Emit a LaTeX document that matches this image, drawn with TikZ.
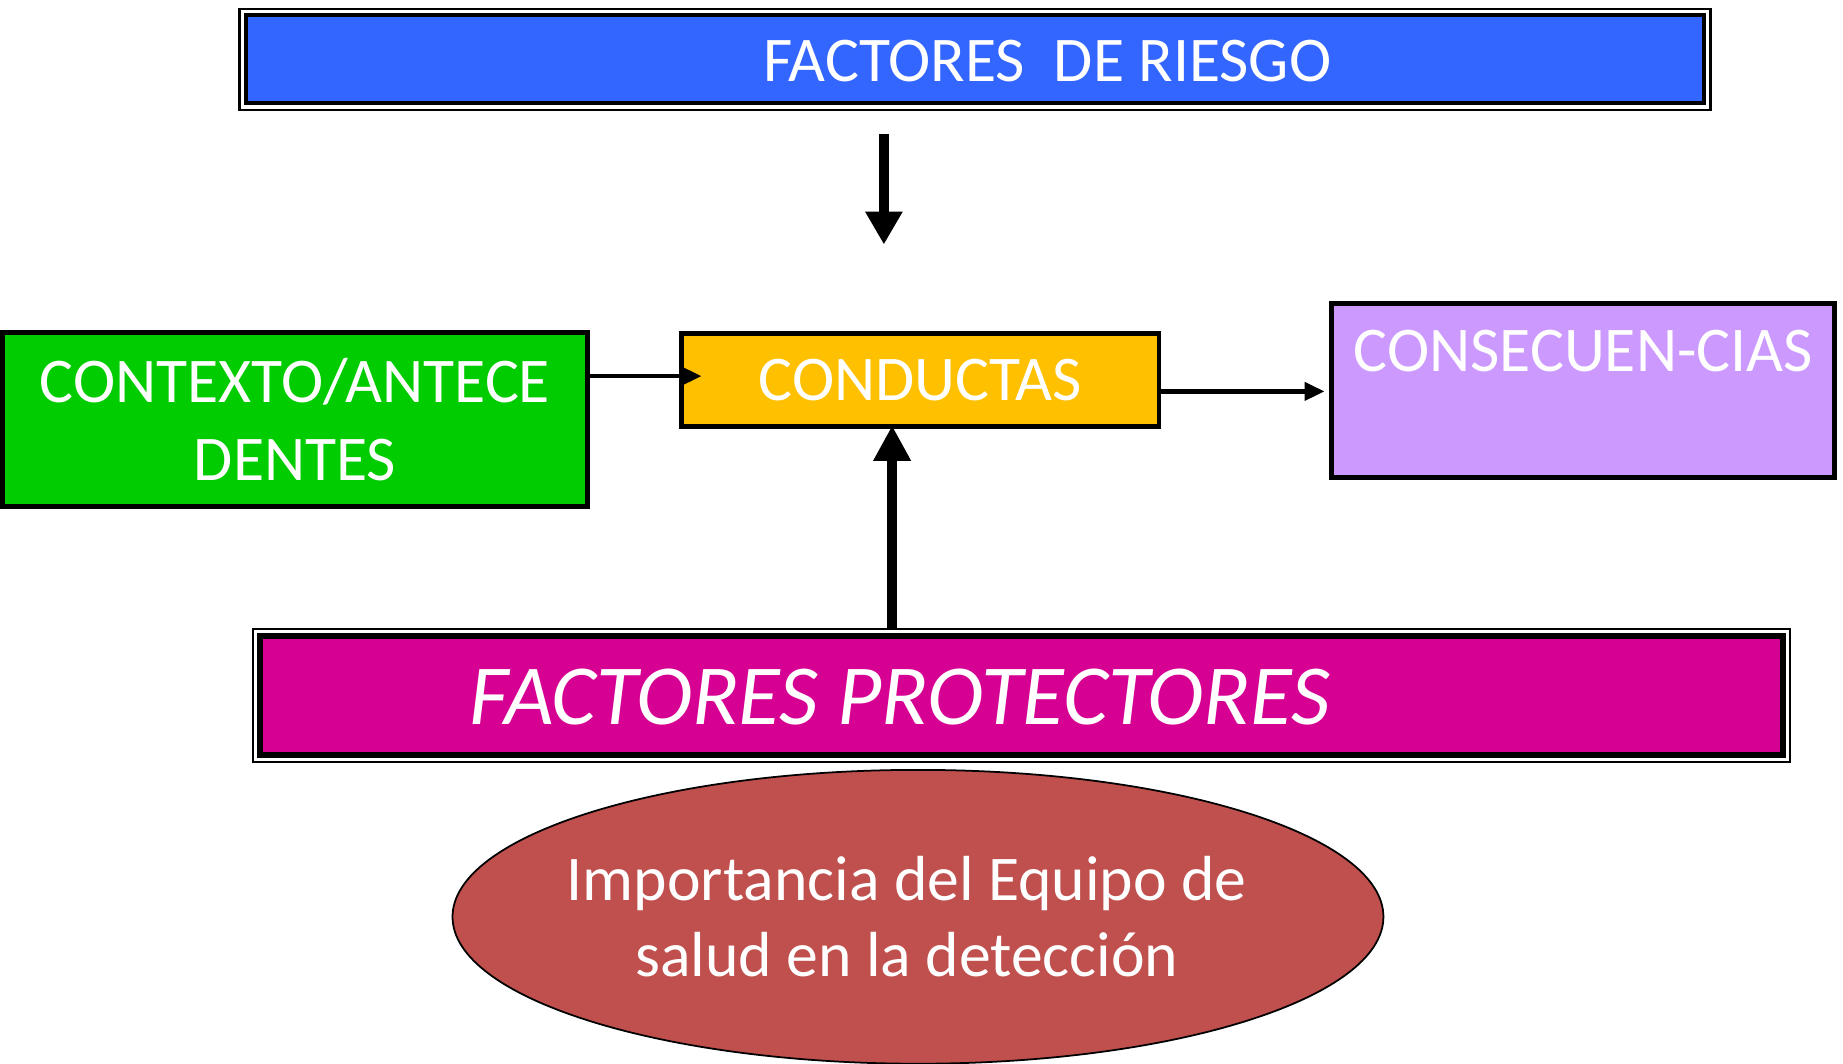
\documentclass[tikz,border=0pt]{standalone}
\usepackage{fontspec}
\setmainfont{Carlito}
\usetikzlibrary{arrows.meta,shapes.geometric,calc}
\definecolor{riesgoblue}{HTML}{3366FF}
\definecolor{ctxgreen}{HTML}{00CC00}
\definecolor{condorange}{HTML}{FFC000}
\definecolor{conspurple}{HTML}{CC99FF}
\definecolor{protmagenta}{HTML}{D60093}
\definecolor{ellred}{HTML}{C0504D}
\begin{document}
\begin{tikzpicture}[x=1pt,y=-1pt,
  box/.style={draw=black, line width=4pt, rectangle, inner sep=0pt, text=white,
    font=\fontsize{54.2}{66}\selectfont, align=center},
  thinframe/.style={draw=black, line width=1.8pt},
  bigarrow/.style={line width=#1, -{Triangle[length=28pt,width=30pt]}},
  smallarrow/.style={line width=4pt, -{Triangle[length=17pt,width=15pt]}},
  lbl/.style={text=white, font=\fontsize{54.2}{66}\selectfont}
]
\useasboundingbox (0,0) rectangle (1568,904.4);

% top box
\node[box, line width=3.5pt, fill=riesgoblue, minimum width=1241pt, minimum height=75pt,
  label={[lbl, xshift=61.5pt, yshift=-1.5pt]center:FACTORES\ \ DE RIESGO}] (riesgo) at (829.5,50.5) {};
\draw[thinframe] ($(riesgo.north west)+(-3.5,-3.5)$) rectangle ($(riesgo.south east)+(3.5,3.5)$);

% middle row
\node[box, fill=ctxgreen, minimum width=498pt, minimum height=148pt] (ctx) at (251,357)
  {CONTEXTO/ANTECE\\DENTES};
\node[box, fill=condorange, minimum width=406pt, minimum height=79pt] (cond) at (783,323.5)
  {CONDUCTAS};
\node[box, fill=conspurple, minimum width=428pt, minimum height=148pt,
  label={[lbl, yshift=33.5pt]center:CONSECUEN-CIAS}] (cons) at (1347,332) {};

% protectores
\node[box, line width=5pt, fill=protmagenta, minimum width=1296pt, minimum height=101pt,
  label={[text=white, font=\fontsize{72.8}{80}\selectfont\itshape, xshift=-103.5pt, yshift=-1.5pt]center:FACTORES PROTECTORES}] (prot) at (869,591.5) {};
\draw[thinframe] ($(prot.north west)+(-3.5,-3.5)$) rectangle ($(prot.south east)+(3.5,3.5)$);

% ellipse
\node[ellipse, draw=black, line width=1.5pt, fill=ellred, minimum width=792pt, minimum height=250pt,
  inner sep=0pt,
  label={[text=white, align=center, font=\fontsize{54.2}{65}\selectfont, xshift=-9.5pt]center:Importancia del Equipo de\\salud en la detección}] (equipo) at (781,780) {};

% connectors
\coordinate (dtop) at (752,114);
\coordinate (dbot) at (752,208);
\draw[bigarrow=8pt] (dtop) -- (dbot);

\coordinate (upx) at (759,0);
\draw[line width=9pt, -{Triangle[length=30pt,width=30pt]}, shorten >=-3pt]
  ($(prot.north -| upx)+(0,-3.5)$) -- (cond.south -| upx);

\coordinate (r1) at (0,320);
\draw[smallarrow, shorten >=-19pt] (ctx.east |- r1) -- (cond.west |- r1);
\coordinate (r2) at (0,333);
\draw[smallarrow, shorten >=4pt] (cond.east |- r2) -- (cons.west |- r2);
\end{tikzpicture}
\end{document}
